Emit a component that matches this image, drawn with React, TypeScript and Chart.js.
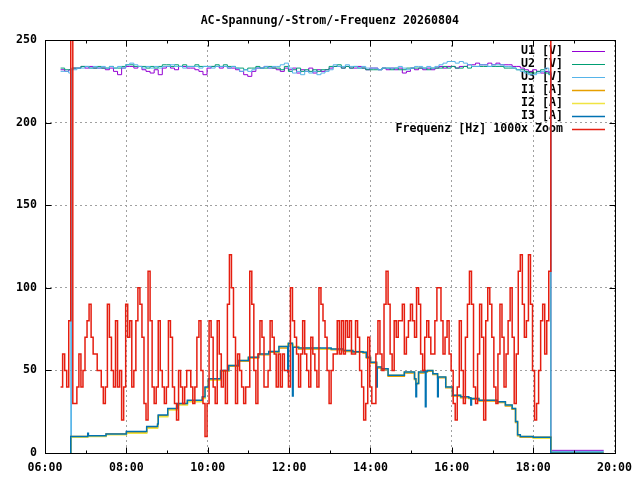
import { useEffect, useRef } from "react";
import { Chart, registerables } from "chart.js";

Chart.register(...registerables);

const CHART_TITLE = "AC-Spannung/-Strom/-Frequenz 20260804";
const FONT_FAMILY = "'DejaVu Sans Mono', 'Liberation Mono', monospace";

const seriesLabels = [
  "U1 [V]",
  "U2 [V]",
  "U3 [V]",
  "I1 [A]",
  "I2 [A]",
  "I3 [A]",
  "Frequenz [Hz] 1000x Zoom",
];
const seriesColors = ["#9400d3", "#009e73", "#56b4e9", "#e69f00", "#f0e442", "#0072b2", "#e51e10"];
const seriesWidths = [1, 1, 1, 1.5, 1.5, 1.5, 1.5];

const xTickLabels = ["06:00", "08:00", "10:00", "12:00", "14:00", "16:00", "18:00", "20:00"];
const yTickValues = [0, 50, 100, 150, 200, 250];

// Spannungen: alle 6 Minuten ab 06:23
const voltageStart = "06:23";
const voltageStepMin = 6;
const u1Values = [
  232, 231, 232, 233, 233, 234, 233, 234, 233, 233,
  233, 232, 233, 231, 229, 233, 234, 234, 233, 234,
  232, 231, 230, 232, 229, 233, 234, 233, 232, 234,
  234, 233, 233, 232, 231, 229, 233, 234, 234, 233,
  234, 233, 233, 232, 231, 229, 228, 231, 233, 233,
  234, 233, 233, 232, 231, 233, 232, 233, 230, 232,
  231, 233, 230, 232, 231, 232, 233, 234, 234, 233,
  234, 233, 233, 234, 233, 232, 233, 233, 232, 233,
  232, 233, 232, 233, 230, 231, 233, 232, 233, 232,
  233, 232, 233, 234, 233, 234, 234, 233, 234, 234,
  235, 235, 236, 235, 235, 236, 235, 236, 235, 235,
  235, 234, 234, 233, 232, 231, 232, 231, 230, 231,
  230,
];
const u2Values = [
  233, 232, 232, 233, 233, 234, 234, 233, 233, 234,
  233, 233, 234, 233, 233, 234, 235, 235, 234, 234,
  234, 233, 234, 233, 234, 235, 235, 234, 235, 234,
  235, 234, 234, 235, 234, 234, 234, 234, 235, 234,
  235, 234, 234, 233, 233, 232, 233, 233, 234, 233,
  233, 234, 233, 233, 232, 234, 231, 232, 233, 231,
  232, 231, 232, 231, 232, 232, 234, 234, 235, 233,
  234, 233, 234, 233, 233, 232, 232, 232, 232, 233,
  233, 232, 233, 232, 232, 233, 233, 233, 233, 233,
  232, 233, 233, 233, 234, 233, 234, 233, 233, 234,
  233, 234, 234, 234, 234, 234, 234, 234, 234, 233,
  233, 233, 232, 232, 231, 230, 230, 231, 232, 230,
  229,
];
const u3Values = [
  231, 231, 230, 232, 233, 233, 234, 233, 234, 233,
  234, 233, 234, 233, 234, 233, 235, 236, 235, 234,
  233, 234, 233, 234, 233, 234, 234, 235, 234, 234,
  233, 234, 234, 234, 233, 234, 234, 233, 234, 234,
  234, 233, 234, 233, 231, 232, 231, 232, 233, 233,
  234, 233, 234, 234, 235, 236, 233, 230, 231, 229,
  231, 230, 231, 229, 230, 231, 232, 235, 234, 234,
  235, 234, 234, 233, 234, 233, 233, 233, 232, 233,
  233, 233, 233, 234, 233, 232, 233, 234, 234, 233,
  234, 233, 234, 235, 236, 237, 237, 236, 237, 236,
  235, 234, 234, 235, 235, 234, 235, 235, 235, 234,
  234, 233, 232, 231, 230, 229, 229, 230, 231, 233,
  231,
];
// kurzer Aussetzer von U3
const u3DropTimes = ["06:38", "06:39"];
const u3DropValues = [0, 233];
// nach dem Abschalten
const voltageTailTimes = ["18:26", "19:44"];
const u1Tail = [1.6, 1.6];
const u2Tail = [0.6, 0.6];
const u3Tail = [1.0, 1.0];

// Ströme
const currentTimes = [
  "06:37", "06:38", "07:03", "07:04", "07:30", "08:00", "08:30", "08:46", "08:47", "09:01",
  "09:15", "09:30", "09:52", "09:56", "10:01", "10:19", "10:31", "10:46", "11:00", "11:15",
  "11:30", "11:45", "11:58", "11:59", "12:05", "12:06", "12:14", "12:31", "12:46", "13:02",
  "13:20", "13:34", "13:49", "13:54", "14:00", "14:09", "14:10", "14:16", "14:26", "14:40",
  "14:50", "14:58", "15:05", "15:07", "15:08", "15:11", "15:19", "15:21", "15:22", "15:24",
  "15:32", "15:39", "15:40", "15:51", "16:01", "16:13", "16:25", "16:28", "16:29", "16:40",
  "16:52", "17:07", "17:19", "17:29", "17:34", "17:37", "17:41", "18:00", "18:26", "19:44",
];
const i1Values = [
  0, 10, 10.5, 10.5, 11.5, 12.5, 15.5, 17, 22.5, 26.5,
  29.5, 31.5, 33.5, 39.5, 44.5, 49.5, 52.5, 55.5, 57.5, 59.5,
  61, 63.5, 65.5, 66, 65, 64, 63, 63, 63, 62.5,
  61.5, 61, 60.5, 57.5, 54.5, 51.5, 51.5, 50.5, 46.5, 46.5,
  48.5, 48.5, 44.5, 41.5, 42, 48.5, 49.5, 49, 49, 49.5,
  47.5, 45.5, 45.5, 39.5, 34.5, 33.5, 33, 32.5, 32.5, 31.5,
  31.5, 30.5, 28.5, 26.5, 18.5, 10.5, 9.5, 9.5, 0, 0,
];
const i2Values = [
  0, 9.5, 10, 10, 11, 12, 15, 16.5, 22, 26,
  29, 31, 33, 39, 44, 49.5, 53, 56, 58, 60,
  61.5, 64.5, 66, 66.5, 65.5, 64.5, 63.5, 63.5, 63, 63,
  62, 61.5, 61, 58, 55, 52, 52, 51, 47, 47,
  49, 49, 45, 42, 42.5, 49, 50, 49.5, 49.5, 50,
  48, 46, 46, 40, 35, 34, 33.5, 33, 33, 32,
  32, 31, 29, 27, 19, 11, 10, 9, 0, 0,
];
const i3Values = [
  0, 10, 12, 10.5, 11.5, 13, 16, 17.5, 23, 27,
  30, 32, 34, 40, 45, 50, 53, 56, 58, 60,
  61.5, 64.5, 49, 66.5, 34.5, 64, 63.5, 63.5, 63.5, 63,
  62, 61.3, 61, 58, 55, 40, 52, 51, 47, 47,
  49, 49, 45, 34, 42, 49, 50, 28, 49.5, 50,
  48, 34, 46, 40, 35, 34, 33.5, 29, 33, 32,
  32, 31, 29, 27, 19, 11, 10, 9.5, 0, 0,
];

// Frequenz (Abweichung x1000): alle 3 Minuten ab 06:23
const freqStart = "06:23";
const freqStepMin = 3;
const freqValues = [
  40, 60, 50, 40, 80, 300, 30, 30, 40, 60,
  40, 50, 70, 80, 90, 70, 60, 60, 50, 50,
  40, 30, 40, 90, 70, 50, 40, 80, 40, 50,
  20, 40, 90, 70, 80, 40, 50, 80, 100, 90,
  70, 30, 20, 110, 80, 40, 30, 40, 80, 50,
  40, 30, 40, 80, 70, 40, 30, 20, 50, 40,
  30, 40, 50, 50, 40, 30, 40, 70, 80, 50,
  30, 10, 30, 80, 70, 40, 30, 80, 60, 40,
  50, 30, 90, 120, 100, 70, 30, 60, 50, 40,
  30, 40, 40, 110, 90, 50, 30, 60, 80, 70,
  40, 40, 50, 80, 70, 60, 40, 60, 40, 60,
  50, 50, 40, 100, 80, 70, 60, 40, 60, 80,
  60, 50, 40, 70, 60, 50, 40, 100, 90, 80,
  70, 50, 30, 50, 60, 60, 80, 60, 80, 60,
  80, 70, 80, 60, 60, 80, 70, 50, 40, 20,
  30, 70, 40, 30, 30, 60, 80, 60, 50, 90,
  110, 90, 60, 50, 80, 70, 80, 80, 90, 60,
  70, 80, 90, 80, 70, 100, 90, 60, 50, 70,
  80, 70, 60, 60, 80, 100, 100, 80, 60, 70,
  80, 60, 50, 30, 20, 40, 80, 50, 30, 70,
  90, 110, 90, 40, 30, 60, 90, 70, 20, 80,
  100, 90, 70, 40, 30, 60, 90, 70, 40, 60,
  80, 100, 70, 30, 60, 110, 120, 90, 70, 80,
  120, 90, 50, 20, 30, 50, 80, 90, 60, 80,
  110, 300,
];

const toHours = (t: string) => {
  const [h, m] = t.split(":").map(Number);
  return h + m / 60;
};

type Pt = { x: number; y: number };

const gridPoints = (start: string, stepMin: number, values: number[]): Pt[] =>
  values.map((y, i) => ({ x: toHours(start) + (i * stepMin) / 60, y }));

const timedPoints = (times: string[], values: number[]): Pt[] =>
  times.map((t, i) => ({ x: toHours(t), y: values[i] }));

const byX = (a: Pt, b: Pt) => a.x - b.x;

const gnuplotFrame = {
  id: "gnuplotFrame",
  beforeDatasetsDraw(chart: Chart) {
    // key, drawn under the data lines like gnuplot does
    const ctx = chart.ctx;
    ctx.save();
    ctx.font = `bold 11.6px ${FONT_FAMILY}`;
    ctx.fillStyle = "#000";
    ctx.textAlign = "right";
    ctx.textBaseline = "middle";
    seriesLabels.forEach((label, i) => {
      const y = 51 + i * 13;
      ctx.fillText(label, 563, y);
      ctx.strokeStyle = seriesColors[i];
      ctx.lineWidth = seriesWidths[i];
      ctx.beginPath();
      ctx.moveTo(572, y + 0.5);
      ctx.lineTo(605, y + 0.5);
      ctx.stroke();
    });
    ctx.restore();
  },
  afterDraw(chart: Chart) {
    const { ctx, chartArea } = chart;
    const left = Math.round(chartArea.left) + 0.5;
    const right = Math.round(chartArea.right) + 0.5;
    const top = Math.round(chartArea.top) + 0.5;
    const bottom = Math.round(chartArea.bottom) + 0.5;
    const xs = chart.scales.x;
    const ys = chart.scales.y;
    ctx.save();
    ctx.strokeStyle = "#000";
    ctx.lineWidth = 1;
    ctx.strokeRect(left, top, right - left, bottom - top);

    ctx.beginPath();
    for (let h = 6; h <= 20; h++) {
      const len = h % 2 === 0 ? 6 : 3;
      const px = Math.round(xs.getPixelForValue(h)) + 0.5;
      ctx.moveTo(px, bottom);
      ctx.lineTo(px, bottom - len);
      ctx.moveTo(px, top);
      ctx.lineTo(px, top + len);
    }
    yTickValues.forEach((v) => {
      const py = Math.round(ys.getPixelForValue(v)) + 0.5;
      ctx.moveTo(left, py);
      ctx.lineTo(left + 6, py);
      ctx.moveTo(right, py);
      ctx.lineTo(right - 6, py);
    });
    ctx.stroke();

    ctx.font = `bold 11.6px ${FONT_FAMILY}`;
    ctx.fillStyle = "#000";
    ctx.textAlign = "center";
    ctx.textBaseline = "middle";
    ctx.fillText(CHART_TITLE, (chartArea.left + chartArea.right) / 2, 21);
    ctx.restore();
  },
};

export default function App() {
  const canvasRef = useRef<HTMLCanvasElement>(null);

  useEffect(() => {
    document.body.style.margin = "0";
    if (!canvasRef.current) return;

    const u1 = [...gridPoints(voltageStart, voltageStepMin, u1Values), ...timedPoints(voltageTailTimes, u1Tail)];
    const u2 = [...gridPoints(voltageStart, voltageStepMin, u2Values), ...timedPoints(voltageTailTimes, u2Tail)];
    const u3 = [
      ...gridPoints(voltageStart, voltageStepMin, u3Values),
      ...timedPoints(u3DropTimes, u3DropValues),
      ...timedPoints(voltageTailTimes, u3Tail),
    ].sort(byX);
    const i1 = timedPoints(currentTimes, i1Values);
    const i2 = timedPoints(currentTimes, i2Values);
    const i3 = timedPoints(currentTimes, i3Values);
    const freq = gridPoints(freqStart, freqStepMin, freqValues);

    const series = [u1, u2, u3, i1, i2, i3, freq];

    const tickFont = { family: FONT_FAMILY, size: 11.6, weight: "bold" as const };

    const chart = new Chart(canvasRef.current, {
      type: "line",
      data: {
        datasets: series.map((data, i) => ({
          label: seriesLabels[i],
          data,
          borderColor: seriesColors[i],
          backgroundColor: seriesColors[i],
          borderWidth: seriesWidths[i],
          pointRadius: 0,
          stepped: true,
          fill: false,
          clip: 0,
          order: series.length - 1 - i,
        })),
      },
      options: {
        animation: false,
        responsive: true,
        maintainAspectRatio: false,
        layout: { padding: { top: 40, right: 22, left: 0, bottom: 0 } },
        plugins: {
          legend: { display: false },
          title: { display: false },
          tooltip: { enabled: false },
        },
        scales: {
          x: {
            type: "linear",
            min: 6,
            max: 20,
            afterBuildTicks: (scale) => {
              scale.ticks = xTickLabels.map((l) => ({ value: toHours(l) }));
            },
            afterFit: (scale) => {
              scale.height = 27;
            },
            ticks: {
              color: "#000",
              font: tickFont,
              padding: 8,
              maxRotation: 0,
              autoSkip: false,
              callback: (value) => {
                const h = Number(value);
                return `${String(h).padStart(2, "0")}:00`;
              },
            },
            grid: { color: "#a0a0a0", lineWidth: 1, drawTicks: false },
            border: { display: false, dash: [2, 3] },
          },
          y: {
            min: 0,
            max: 250,
            afterBuildTicks: (scale) => {
              scale.ticks = yTickValues.map((v) => ({ value: v }));
            },
            afterFit: (scale) => {
              scale.width = 45;
            },
            ticks: {
              color: "#000",
              font: tickFont,
              padding: 8,
            },
            grid: { color: "#a0a0a0", lineWidth: 1, drawTicks: false },
            border: { display: false, dash: [2, 3] },
          },
        },
      },
      plugins: [gnuplotFrame],
    });

    return () => chart.destroy();
  }, []);

  return (
    <div style={{ width: 640, height: 480, position: "relative" }}>
      <canvas ref={canvasRef} />
    </div>
  );
}
